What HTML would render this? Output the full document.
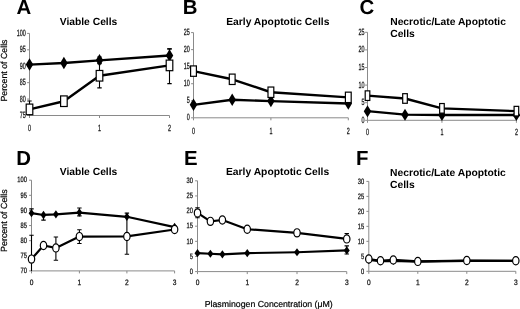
<!DOCTYPE html>
<html><head><meta charset="utf-8"><style>
html,body{margin:0;padding:0;background:#fff;}
svg{display:block;will-change:transform;}
text{font-family:"Liberation Sans", sans-serif;fill:#000;text-rendering:geometricPrecision;}
.let{font-size:20.4px;font-weight:bold;}
.tit{font-size:10.3px;font-weight:bold;}
.yl{text-anchor:end;fill:#111;stroke:#111;stroke-width:0.25px;}
.xl{text-anchor:middle;fill:#111;stroke:#111;stroke-width:0.25px;}
.yt{fill:#000;stroke:#000;stroke-width:0.2px;}
.xt{font-size:8.75px;fill:#000;stroke:#000;stroke-width:0.2px;}
.ax{stroke:#8a8a8a;stroke-width:1;fill:none;}
.tk{stroke:#8a8a8a;stroke-width:1;fill:none;}
.eb{stroke:#000;stroke-width:1.1;fill:none;}
</style></head><body>
<svg width="520" height="309" viewBox="0 0 520 309">
<rect width="520" height="309" fill="#fff"/>
<text x="16.6" y="14" class="let">A</text>
<text transform="translate(59.7 24.9) scale(1.0 1)" class="tit">Viable Cells</text>
<path d="M29.5 33.4V115.5M29.5 115.5H169.5" class="ax"/>
<path d="M27.1 115.5H29.5M27.1 99.08H29.5M27.1 82.66H29.5M27.1 66.24H29.5M27.1 49.82H29.5M27.1 33.4H29.5M29.5 115.5V118M99.5 115.5V118M169.5 115.5V118" class="tk"/>
<text transform="translate(25.7 118) scale(0.6 1)" class="yl" font-size="9.0">75</text>
<text transform="translate(25.7 101.58) scale(0.6 1)" class="yl" font-size="9.0">80</text>
<text transform="translate(25.7 85.16) scale(0.6 1)" class="yl" font-size="9.0">85</text>
<text transform="translate(25.7 68.74) scale(0.6 1)" class="yl" font-size="9.0">90</text>
<text transform="translate(25.7 52.32) scale(0.6 1)" class="yl" font-size="9.0">95</text>
<text transform="translate(25.7 35.9) scale(0.6 1)" class="yl" font-size="9.0">100</text>
<text transform="translate(29.5 131.3) scale(0.6 1)" class="xl" font-size="9.0">0</text>
<text transform="translate(99.5 131.3) scale(0.6 1)" class="xl" font-size="9.0">1</text>
<text transform="translate(169.5 131.3) scale(0.6 1)" class="xl" font-size="9.0">2</text>
<polyline points="29.5,64.6 63.9,62.96 99.5,60.33 169.5,55.5" fill="none" stroke="#000" stroke-width="2.4" stroke-linejoin="round"/>
<path d="M99.5 60.33V57.04M97.3 57.04H101.7" class="eb"/>
<path d="M169.5 55.5V48.83M167.3 48.83H171.7" class="eb"/>
<path d="M29.5 58.35L33.25 64.6L29.5 70.85L25.75 64.6Z" fill="#000"/>
<path d="M63.9 56.71L67.65 62.96L63.9 69.21L60.15 62.96Z" fill="#000"/>
<path d="M99.5 54.08L103.25 60.33L99.5 66.58L95.75 60.33Z" fill="#000"/>
<path d="M169.5 49.25L173.25 55.5L169.5 61.75L165.75 55.5Z" fill="#000"/>
<polyline points="29.5,109.39 63.9,101.21 99.5,75.76 169.5,65.39" fill="none" stroke="#000" stroke-width="2.4" stroke-linejoin="round"/>
<path d="M29.5 109.39V115.5M29.5 109.39V101.05M27.3 101.05H31.7" class="eb"/>
<path d="M99.5 75.76V87.91M97.3 87.91H101.7M99.5 75.76V63.61M97.3 63.61H101.7" class="eb"/>
<path d="M169.5 65.39V83.65M167.3 83.65H171.7M169.5 65.39V48.83M167.3 48.83H171.7" class="eb"/>
<rect x="26.2" y="104.09" width="6.6" height="10.6" fill="#fff" stroke="#000" stroke-width="1.2"/>
<rect x="60.6" y="95.91" width="6.6" height="10.6" fill="#fff" stroke="#000" stroke-width="1.2"/>
<rect x="96.2" y="70.46" width="6.6" height="10.6" fill="#fff" stroke="#000" stroke-width="1.2"/>
<rect x="166.2" y="60.09" width="6.6" height="10.6" fill="#fff" stroke="#000" stroke-width="1.2"/>
<text x="182.8" y="14" class="let">B</text>
<text transform="translate(226.2 24.9) scale(1.0 1)" class="tit">Early Apoptotic Cells</text>
<path d="M193.5 32.6V117.8M193.5 117.8H348.3" class="ax"/>
<path d="M191.1 117.8H193.5M191.1 100.76H193.5M191.1 83.72H193.5M191.1 66.68H193.5M191.1 49.64H193.5M191.1 32.6H193.5M193.5 117.8V120.3M270.9 117.8V120.3M348.3 117.8V120.3" class="tk"/>
<text transform="translate(189.7 120.3) scale(0.6 1)" class="yl" font-size="9.0">0</text>
<text transform="translate(189.7 103.26) scale(0.6 1)" class="yl" font-size="9.0">5</text>
<text transform="translate(189.7 86.22) scale(0.6 1)" class="yl" font-size="9.0">10</text>
<text transform="translate(189.7 69.18) scale(0.6 1)" class="yl" font-size="9.0">15</text>
<text transform="translate(189.7 52.14) scale(0.6 1)" class="yl" font-size="9.0">20</text>
<text transform="translate(189.7 35.1) scale(0.6 1)" class="yl" font-size="9.0">25</text>
<text transform="translate(193.5 133.6) scale(0.6 1)" class="xl" font-size="9.0">0</text>
<text transform="translate(270.9 133.6) scale(0.6 1)" class="xl" font-size="9.0">1</text>
<text transform="translate(348.3 133.6) scale(0.6 1)" class="xl" font-size="9.0">2</text>
<polyline points="193.5,104.85 232.2,99.74 270.9,101.1 348.3,103.49" fill="none" stroke="#000" stroke-width="2.4" stroke-linejoin="round"/>
<path d="M193.5 98.6L197.25 104.85L193.5 111.1L189.75 104.85Z" fill="#000"/>
<path d="M232.2 93.49L235.95 99.74L232.2 105.99L228.45 99.74Z" fill="#000"/>
<path d="M270.9 94.85L274.65 101.1L270.9 107.35L267.15 101.1Z" fill="#000"/>
<path d="M348.3 97.24L352.05 103.49L348.3 109.74L344.55 103.49Z" fill="#000"/>
<polyline points="193.5,71.11 232.2,79.29 270.9,92.24 348.3,97.35" fill="none" stroke="#000" stroke-width="2.4" stroke-linejoin="round"/>
<rect x="190.6" y="65.91" width="5.8" height="10.4" fill="#fff" stroke="#000" stroke-width="1.2"/>
<rect x="229.3" y="74.09" width="5.8" height="10.4" fill="#fff" stroke="#000" stroke-width="1.2"/>
<rect x="268" y="87.04" width="5.8" height="10.4" fill="#fff" stroke="#000" stroke-width="1.2"/>
<rect x="345.4" y="92.15" width="5.8" height="10.4" fill="#fff" stroke="#000" stroke-width="1.2"/>
<text x="359.6" y="14" class="let">C</text>
<text transform="translate(390.2 24.6) scale(1.0 1)" class="tit">Necrotic/Late Apoptotic</text>
<text transform="translate(390.2 36.5) scale(1.0 1)" class="tit">Cells</text>
<path d="M367.5 32.3V120.3M367.5 120.3H516.4" class="ax"/>
<path d="M365.1 120.3H367.5M365.1 102.7H367.5M365.1 85.1H367.5M365.1 67.5H367.5M365.1 49.9H367.5M365.1 32.3H367.5M367.5 120.3V122.8M441.95 120.3V122.8M516.4 120.3V122.8" class="tk"/>
<text transform="translate(364.5 122.8) scale(0.6 1)" class="yl" font-size="9.0">0</text>
<text transform="translate(364.5 105.2) scale(0.6 1)" class="yl" font-size="9.0">5</text>
<text transform="translate(364.5 87.6) scale(0.6 1)" class="yl" font-size="9.0">10</text>
<text transform="translate(364.5 70) scale(0.6 1)" class="yl" font-size="9.0">15</text>
<text transform="translate(364.5 52.4) scale(0.6 1)" class="yl" font-size="9.0">20</text>
<text transform="translate(364.5 34.8) scale(0.6 1)" class="yl" font-size="9.0">25</text>
<text transform="translate(367.5 135.3) scale(0.6 1)" class="xl" font-size="9.0">0</text>
<text transform="translate(441.95 135.3) scale(0.6 1)" class="xl" font-size="9.0">1</text>
<text transform="translate(516.4 135.3) scale(0.6 1)" class="xl" font-size="9.0">2</text>
<polyline points="367.5,111.15 405,114.67 441.95,115.02 516.4,115.02" fill="none" stroke="#000" stroke-width="2.4" stroke-linejoin="round"/>
<path d="M367.5 105.15L371.25 111.15L367.5 117.15L363.75 111.15Z" fill="#000"/>
<path d="M405 108.67L408.75 114.67L405 120.67L401.25 114.67Z" fill="#000"/>
<path d="M441.95 109.02L445.7 115.02L441.95 121.02L438.2 115.02Z" fill="#000"/>
<path d="M516.4 109.02L520.15 115.02L516.4 121.02L512.65 115.02Z" fill="#000"/>
<polyline points="367.5,95.66 405,98.48 441.95,108.33 516.4,111.15" fill="none" stroke="#000" stroke-width="2.4" stroke-linejoin="round"/>
<rect x="365.2" y="90.86" width="4.6" height="9.6" fill="#fff" stroke="#000" stroke-width="1.2"/>
<rect x="402.7" y="93.68" width="4.6" height="9.6" fill="#fff" stroke="#000" stroke-width="1.2"/>
<rect x="439.65" y="103.53" width="4.6" height="9.6" fill="#fff" stroke="#000" stroke-width="1.2"/>
<rect x="514.1" y="106.35" width="4.6" height="9.6" fill="#fff" stroke="#000" stroke-width="1.2"/>
<text x="16.3" y="165.2" class="let">D</text>
<text transform="translate(59.7 175.4) scale(1.0 1)" class="tit">Viable Cells</text>
<path d="M31.5 180.2V270.9M31.5 270.9H174.6" class="ax"/>
<path d="M29.1 270.9H31.5M29.1 255.78H31.5M29.1 240.67H31.5M29.1 225.55H31.5M29.1 210.43H31.5M29.1 195.32H31.5M29.1 180.2H31.5M31.5 270.9V273.4M79.4 270.9V273.4M126.9 270.9V273.4M174.6 270.9V273.4" class="tk"/>
<text transform="translate(26.9 273.1) scale(0.74 1)" class="yl" font-size="7.8">70</text>
<text transform="translate(26.9 257.98) scale(0.74 1)" class="yl" font-size="7.8">75</text>
<text transform="translate(26.9 242.87) scale(0.74 1)" class="yl" font-size="7.8">80</text>
<text transform="translate(26.9 227.75) scale(0.74 1)" class="yl" font-size="7.8">85</text>
<text transform="translate(26.9 212.63) scale(0.74 1)" class="yl" font-size="7.8">90</text>
<text transform="translate(26.9 197.52) scale(0.74 1)" class="yl" font-size="7.8">95</text>
<text transform="translate(26.9 182.4) scale(0.74 1)" class="yl" font-size="7.8">100</text>
<text transform="translate(31.5 284.6) scale(0.85 1)" class="xl" font-size="7.8">0</text>
<text transform="translate(79.4 284.6) scale(0.85 1)" class="xl" font-size="7.8">1</text>
<text transform="translate(126.9 284.6) scale(0.85 1)" class="xl" font-size="7.8">2</text>
<text transform="translate(174.6 284.6) scale(0.85 1)" class="xl" font-size="7.8">3</text>
<polyline points="31.5,213.15 43.5,214.97 55.9,214.36 79.4,212.55 126.9,216.78 174.6,227.06" fill="none" stroke="#000" stroke-width="2.2" stroke-linejoin="round"/>
<path d="M31.5 213.15V208.92M29.3 208.92H33.7" class="eb"/>
<path d="M43.5 214.97V220.11M41.3 220.11H45.7" class="eb"/>
<path d="M79.4 212.55V215.88M77.2 215.88H81.6M79.4 212.55V208.01M77.2 208.01H81.6" class="eb"/>
<path d="M126.9 216.78V213.15M124.7 213.15H129.1" class="eb"/>
<path d="M31.5 208.95L34.4 213.15L31.5 217.35L28.6 213.15Z" fill="#000"/>
<path d="M43.5 210.77L46.4 214.97L43.5 219.17L40.6 214.97Z" fill="#000"/>
<path d="M55.9 210.16L58.8 214.36L55.9 218.56L53 214.36Z" fill="#000"/>
<path d="M79.4 208.35L82.3 212.55L79.4 216.75L76.5 212.55Z" fill="#000"/>
<path d="M126.9 212.58L129.8 216.78L126.9 220.98L124 216.78Z" fill="#000"/>
<path d="M174.6 222.86L177.5 227.06L174.6 231.26L171.7 227.06Z" fill="#000"/>
<polyline points="31.5,259.11 43.5,245.5 55.9,247.92 79.4,236.59 126.9,236.43 174.6,229.48" fill="none" stroke="#000" stroke-width="2.2" stroke-linejoin="round"/>
<path d="M31.5 259.11V270.9M31.5 259.11V235.22M29.3 235.22H33.7" class="eb"/>
<path d="M55.9 247.92V260.32M53.7 260.32H58.1M55.9 247.92V237.04M53.7 237.04H58.1" class="eb"/>
<path d="M79.4 236.59V243.54M77.2 243.54H81.6M79.4 236.59V229.78M77.2 229.78H81.6" class="eb"/>
<path d="M126.9 236.43V254.27M124.7 254.27H129.1M126.9 236.43V216.48M124.7 216.48H129.1" class="eb"/>
<ellipse cx="31.5" cy="259.11" rx="3.2" ry="4.1" fill="#fff" stroke="#000" stroke-width="1.2"/>
<ellipse cx="43.5" cy="245.5" rx="3.2" ry="4.1" fill="#fff" stroke="#000" stroke-width="1.2"/>
<ellipse cx="55.9" cy="247.92" rx="3.2" ry="4.1" fill="#fff" stroke="#000" stroke-width="1.2"/>
<ellipse cx="79.4" cy="236.59" rx="3.2" ry="4.1" fill="#fff" stroke="#000" stroke-width="1.2"/>
<ellipse cx="126.9" cy="236.43" rx="3.2" ry="4.1" fill="#fff" stroke="#000" stroke-width="1.2"/>
<ellipse cx="174.6" cy="229.48" rx="3.2" ry="4.1" fill="#fff" stroke="#000" stroke-width="1.2"/>
<text x="184" y="165.4" class="let">E</text>
<text transform="translate(226 175.4) scale(1.0 1)" class="tit">Early Apoptotic Cells</text>
<path d="M197.5 180.8V271.6M197.5 271.6H346.75" class="ax"/>
<path d="M195.1 271.6H197.5M195.1 256.47H197.5M195.1 241.33H197.5M195.1 226.2H197.5M195.1 211.07H197.5M195.1 195.93H197.5M195.1 180.8H197.5M197.5 271.6V274.1M247.25 271.6V274.1M297 271.6V274.1M346.75 271.6V274.1" class="tk"/>
<text transform="translate(192.9 273.8) scale(0.74 1)" class="yl" font-size="7.8">0</text>
<text transform="translate(192.9 258.67) scale(0.74 1)" class="yl" font-size="7.8">5</text>
<text transform="translate(192.9 243.53) scale(0.74 1)" class="yl" font-size="7.8">10</text>
<text transform="translate(192.9 228.4) scale(0.74 1)" class="yl" font-size="7.8">15</text>
<text transform="translate(192.9 213.27) scale(0.74 1)" class="yl" font-size="7.8">20</text>
<text transform="translate(192.9 198.13) scale(0.74 1)" class="yl" font-size="7.8">25</text>
<text transform="translate(192.9 183) scale(0.74 1)" class="yl" font-size="7.8">30</text>
<text transform="translate(197.5 285.3) scale(0.85 1)" class="xl" font-size="7.8">0</text>
<text transform="translate(247.25 285.3) scale(0.85 1)" class="xl" font-size="7.8">1</text>
<text transform="translate(297 285.3) scale(0.85 1)" class="xl" font-size="7.8">2</text>
<text transform="translate(346.75 285.3) scale(0.85 1)" class="xl" font-size="7.8">3</text>
<polyline points="197.5,253.14 210.4,253.74 222.38,254.35 247.25,253.14 297,252.23 346.75,250.41" fill="none" stroke="#000" stroke-width="2.2" stroke-linejoin="round"/>
<path d="M346.75 250.41V254.05M344.55 254.05H348.95M346.75 250.41V245.87M344.55 245.87H348.95" class="eb"/>
<path d="M197.5 249.04L200.5 253.14L197.5 257.24L194.5 253.14Z" fill="#000"/>
<path d="M210.4 249.64L213.4 253.74L210.4 257.84L207.4 253.74Z" fill="#000"/>
<path d="M222.38 250.25L225.38 254.35L222.38 258.45L219.38 254.35Z" fill="#000"/>
<path d="M247.25 249.04L250.25 253.14L247.25 257.24L244.25 253.14Z" fill="#000"/>
<path d="M297 248.13L300 252.23L297 256.33L294 252.23Z" fill="#000"/>
<path d="M346.75 246.31L349.75 250.41L346.75 254.51L343.75 250.41Z" fill="#000"/>
<polyline points="197.5,212.88 210.4,221.36 222.38,220 247.25,229.23 297,232.86 346.75,238.91" fill="none" stroke="#000" stroke-width="2.2" stroke-linejoin="round"/>
<path d="M197.5 212.88V217.73M195.3 217.73H199.7M197.5 212.88V207.74M195.3 207.74H199.7" class="eb"/>
<path d="M346.75 238.91V233.46M344.55 233.46H348.95" class="eb"/>
<ellipse cx="197.5" cy="212.88" rx="3.2" ry="4.1" fill="#fff" stroke="#000" stroke-width="1.2"/>
<ellipse cx="210.4" cy="221.36" rx="3.2" ry="4.1" fill="#fff" stroke="#000" stroke-width="1.2"/>
<ellipse cx="222.38" cy="220" rx="3.2" ry="4.1" fill="#fff" stroke="#000" stroke-width="1.2"/>
<ellipse cx="247.25" cy="229.23" rx="3.2" ry="4.1" fill="#fff" stroke="#000" stroke-width="1.2"/>
<ellipse cx="297" cy="232.86" rx="3.2" ry="4.1" fill="#fff" stroke="#000" stroke-width="1.2"/>
<ellipse cx="346.75" cy="238.91" rx="3.2" ry="4.1" fill="#fff" stroke="#000" stroke-width="1.2"/>
<text x="356" y="165.4" class="let">F</text>
<text transform="translate(390 176.2) scale(1.0 1)" class="tit">Necrotic/Late Apoptotic</text>
<text transform="translate(390 188.2) scale(1.0 1)" class="tit">Cells</text>
<path d="M368.8 181.4V271.3M368.8 271.3H515.8" class="ax"/>
<path d="M366.4 271.3H368.8M366.4 256.32H368.8M366.4 241.33H368.8M366.4 226.35H368.8M366.4 211.37H368.8M366.4 196.38H368.8M366.4 181.4H368.8M368.8 271.3V273.8M417.8 271.3V273.8M466.8 271.3V273.8M515.8 271.3V273.8" class="tk"/>
<text transform="translate(364.2 273.5) scale(0.74 1)" class="yl" font-size="7.8">0</text>
<text transform="translate(364.2 258.52) scale(0.74 1)" class="yl" font-size="7.8">5</text>
<text transform="translate(364.2 243.53) scale(0.74 1)" class="yl" font-size="7.8">10</text>
<text transform="translate(364.2 228.55) scale(0.74 1)" class="yl" font-size="7.8">15</text>
<text transform="translate(364.2 213.57) scale(0.74 1)" class="yl" font-size="7.8">20</text>
<text transform="translate(364.2 198.58) scale(0.74 1)" class="yl" font-size="7.8">25</text>
<text transform="translate(364.2 183.6) scale(0.74 1)" class="yl" font-size="7.8">30</text>
<text transform="translate(368.8 285) scale(0.85 1)" class="xl" font-size="7.8">0</text>
<text transform="translate(417.8 285) scale(0.85 1)" class="xl" font-size="7.8">1</text>
<text transform="translate(466.8 285) scale(0.85 1)" class="xl" font-size="7.8">2</text>
<text transform="translate(515.8 285) scale(0.85 1)" class="xl" font-size="7.8">3</text>
<polyline points="368.8,259.91 380.5,261.11 393.3,260.81 417.8,261.71 466.8,260.81 515.8,260.81" fill="none" stroke="#000" stroke-width="2.2" stroke-linejoin="round"/>
<path d="M368.8 255.71L372.1 259.91L368.8 264.11L365.5 259.91Z" fill="#000"/>
<path d="M380.5 256.91L383.8 261.11L380.5 265.31L377.2 261.11Z" fill="#000"/>
<path d="M393.3 256.61L396.6 260.81L393.3 265.01L390 260.81Z" fill="#000"/>
<path d="M417.8 257.51L421.1 261.71L417.8 265.91L414.5 261.71Z" fill="#000"/>
<path d="M466.8 256.61L470.1 260.81L466.8 265.01L463.5 260.81Z" fill="#000"/>
<path d="M515.8 256.61L519.1 260.81L515.8 265.01L512.5 260.81Z" fill="#000"/>
<polyline points="368.8,259.01 380.5,260.81 393.3,259.91 417.8,261.41 466.8,260.51 515.8,260.81" fill="none" stroke="#000" stroke-width="2.2" stroke-linejoin="round"/>
<ellipse cx="368.8" cy="259.01" rx="3.2" ry="4.1" fill="#fff" stroke="#000" stroke-width="1.2"/>
<ellipse cx="380.5" cy="260.81" rx="3.2" ry="4.1" fill="#fff" stroke="#000" stroke-width="1.2"/>
<ellipse cx="393.3" cy="259.91" rx="3.2" ry="4.1" fill="#fff" stroke="#000" stroke-width="1.2"/>
<ellipse cx="417.8" cy="261.41" rx="3.2" ry="4.1" fill="#fff" stroke="#000" stroke-width="1.2"/>
<ellipse cx="466.8" cy="260.51" rx="3.2" ry="4.1" fill="#fff" stroke="#000" stroke-width="1.2"/>
<ellipse cx="515.8" cy="260.81" rx="3.2" ry="4.1" fill="#fff" stroke="#000" stroke-width="1.2"/>
<text transform="translate(6.7 101.6) rotate(-90)" class="yt" font-size="8.8">Percent of Cells</text>
<text transform="translate(6.9 251.9) rotate(-90)" class="yt" font-size="8.9">Percent of Cells</text>
<text x="204.7" y="306.5" class="xt">Plasminogen Concentration (μM)</text>
</svg>
</body></html>
